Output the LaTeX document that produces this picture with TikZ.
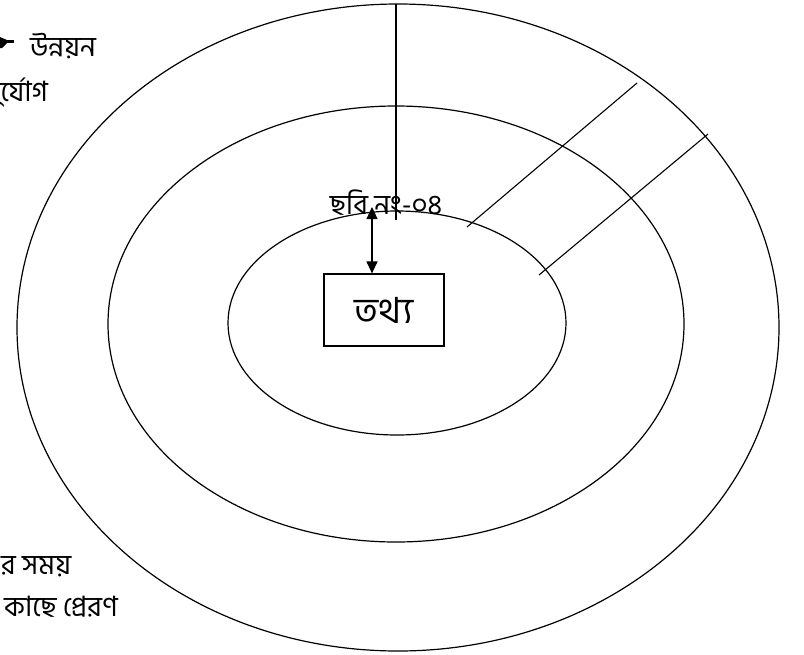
\documentclass[tikz,border=0pt]{standalone}
\usepackage{fontspec}
\newfontfamily\bn[Script=Bengali]{Hind Siliguri}
\usetikzlibrary{arrows.meta}
\begin{document}
\begin{tikzpicture}[x=1pt,y=-1pt,
  ring/.style={line width=1.2pt},
  spoke/.style={line width=1.1pt},
  txt/.style={font=\bn\fontsize{28}{32}\selectfont, inner sep=0pt},
  boxstyle/.style={draw, line width=1.2pt, minimum width=120pt, minimum height=72pt, font=\bn\fontsize{36}{40}\selectfont},
  dbl/.style={line width=1.1pt, {Triangle[length=12pt,width=11pt]}-{Triangle[length=12pt,width=11pt]}}]
\useasboundingbox (0,0) rectangle (804,654);
\clip (0,0) rectangle (804,654);
% rings
\draw[ring] (398,327.5) ellipse [x radius=381, y radius=323.5];
\draw[ring] (396,324) ellipse [x radius=288, y radius=218];
\draw[ring] (397,323) ellipse [x radius=169, y radius=112];
% spokes
\coordinate (v1) at (396,4);   \coordinate (v2) at (396,220);
\coordinate (d1a) at (637,83); \coordinate (d1b) at (467,227);
\coordinate (d2a) at (708,134);\coordinate (d2b) at (539,275);
\draw[spoke] (v1) -- (v2);
\draw[spoke] (d1a) -- (d1b);
\draw[spoke] (d2a) -- (d2b);
% centre box
\node[boxstyle] (info) at (384,310) {তথ্য};
\node[txt, anchor=base] (cap) at (386,214) {ছবি নং-০৪};
\coordinate (atop) at (372,207);
\draw[dbl] (atop) -- (atop |- info.north);
% top-left texts
\fill (0,37) -- (7,40) -- (7,43) -- (2,48) -- (0,48) -- cycle;
\draw[line width=3pt] (4,41) -- (14,41);
\node[txt, anchor=base west] (dev) at (30,56) {উন্নয়ন};
\node[txt, anchor=base east] (dis) at (48,101) {দুর্যোগ};
% bottom-left texts
\node[txt, anchor=base west] (time) at (1,574) {র সময়};
\node[txt, anchor=base west] (send) at (4,616) {কাছে প্রেরণ};
\end{tikzpicture}
\end{document}
